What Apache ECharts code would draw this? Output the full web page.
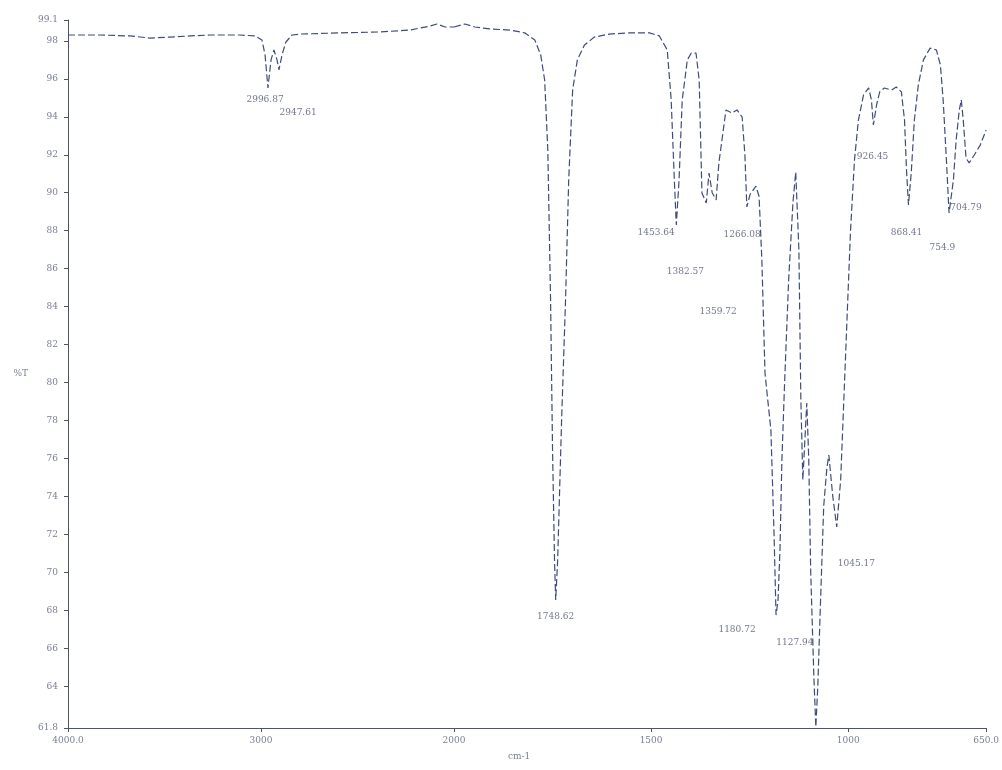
<!DOCTYPE html>
<html lang="en">
<head>
    <meta charset="UTF-8">
    <title>IR spectrum</title>
    <style>
        html, body { margin: 0; padding: 0; background: #fff; }
        #myChart { width: 1002px; height: 770px; }
    </style>
</head>
<body>
    <div id="myChart"></div>
</body>
<script src="https://cdn.jsdelivr.net/npm/echarts@6/dist/echarts.min.js"></script>
<script>
    // 4000 - 2000 cm-1 part (compressed scale)
    let wnHigh = [4000, 3834, 3679, 3575, 3472, 3368, 3264, 3109, 3031, 2995, 2979, 2964, 2948, 2933, 2917,
        2907, 2891, 2871, 2839, 2798, 2591, 2383, 2228, 2124, 2088, 2047, 2000];
    let tHigh = [98.31, 98.31, 98.26, 98.15, 98.20, 98.26, 98.31, 98.31, 98.26, 98.05, 97.26, 95.52, 97.0, 97.52, 97.0,
        96.47, 97.26, 97.94, 98.31, 98.36, 98.42, 98.47, 98.57, 98.78, 98.89, 98.73, 98.73];

    // 2000 - 650 cm-1 part
    let wnLow = [2000, 1972, 1947, 1909, 1858, 1820, 1795, 1780, 1770, 1762, 1755, 1750, 1745, 1742, 1737,
        1727, 1717, 1709, 1699, 1687, 1669, 1644, 1606, 1555, 1504, 1479, 1459, 1449, 1441, 1436,
        1429, 1421, 1408, 1398, 1386, 1378, 1371, 1360, 1353, 1345, 1335, 1328, 1310, 1295, 1282,
        1269, 1262, 1257, 1249, 1234, 1226, 1219, 1211, 1204, 1196, 1188, 1183, 1178, 1173, 1168,
        1161, 1151, 1140, 1133, 1125, 1120, 1115, 1105, 1100, 1095, 1087, 1082, 1077, 1070, 1062,
        1054, 1049, 1039, 1029, 1019, 1009, 1001, 994, 984, 974, 961, 948, 941, 936, 928,
        920, 908, 890, 878, 865, 857, 852, 847, 840, 832, 822, 809, 792, 776, 766,
        759, 751, 744, 733, 726, 718, 713, 708, 701, 693, 680, 665, 650];
    let tLow = [98.73, 98.89, 98.73, 98.63, 98.57, 98.42, 98.05, 97.26, 95.94, 92.25, 84.35, 76.45, 70.65, 68.54, 70.65,
        78.03, 84.35, 90.67, 95.41, 97.0, 97.78, 98.2, 98.36, 98.42, 98.42, 98.26, 97.52, 94.89, 90.67, 88.3,
        90.67, 94.89, 97.0, 97.36, 97.36, 95.94, 89.99, 89.46, 91.04, 90.0, 89.62, 91.57, 94.36, 94.2, 94.36,
        93.99, 92.0, 89.25, 89.9, 90.35, 89.8, 86.5, 80.5, 79.08, 77.5, 72.0, 67.75, 68.5, 71.18, 76.0,
        80.13, 85.4, 89.5, 91.09, 86.98, 79.08, 74.87, 78.92, 76.0, 70.0, 64.5, 61.85, 64.0, 68.54, 73.5,
        75.5, 76.18, 74.0, 72.39, 74.87, 80.13, 84.35, 88.0, 91.72, 93.83, 95.15, 95.52, 94.89, 93.57, 94.62,
        95.31, 95.52, 95.41, 95.57, 95.31, 93.83, 91.2, 89.35, 91.04, 93.83, 95.68, 97.0, 97.62, 97.52, 96.73,
        94.89, 91.83, 88.93, 90.67, 92.78, 94.36, 94.89, 93.83, 91.83, 91.57, 91.99, 92.51, 93.3];

    // peak labels (text, and where the text sits)
    let peakHighText = ['2996.87', '2947.61'];
    let peakHighWn = [2979, 2808];
    let peakHighT = [94.89, 94.2];
    let peakLowText = ['1748.62', '1453.64', '1382.57', '1359.72', '1266.08', '1180.72', '1127.94',
        '1045.17', '926.45', '868.41', '754.9', '704.79'];
    let peakLowWn = [1742, 1487, 1413, 1330, 1269, 1282, 1135, 979, 938, 852, 761, 701];
    let peakLowT = [67.65, 87.88, 85.82, 83.72, 87.77, 66.96, 66.28, 70.44, 91.88, 87.88, 87.09, 89.2];

    let yTicks = [61.8, 64, 66, 68, 70, 72, 74, 76, 78, 80, 82, 84, 86, 88, 90, 92, 94, 96, 98, 99.1];
    let xTicksHigh = [4000, 3000];
    let xTicksLow = [2000, 1500, 1000, 650];

    let zip = (a, b) => a.map((v, i) => [v, b[i]]);
    let axisColor = '#4b5468';
    let textColor = '#7a8094';
    let lineColor = '#3d4c7c';

    let xFmt = function (v) {
      if (v === 4000) return '4000.0';
      if (v === 650) return '650.0';
      return String(v);
    };

    let chart = echarts.init(document.getElementById('myChart'));
    let option = {
      animation: false,
      grid: [
        {left: 68, width: 386, top: 20, bottom: 42},
        {left: 454, right: 12, top: 20, bottom: 42}
      ],
      xAxis: [{
        gridIndex: 0,
        type: 'value',
        min: 2000,
        max: 4000,
        inverse: true,
        splitLine: {show: false},
        axisLine: {lineStyle: {color: axisColor, width: 1}},
        axisTick: {customValues: xTicksHigh, length: 4, lineStyle: {color: axisColor}},
        axisLabel: {customValues: xTicksHigh, formatter: xFmt, color: textColor, fontSize: 9,
          fontFamily: 'DejaVu Serif', margin: 8}
      }, {
        gridIndex: 1,
        type: 'value',
        min: 650,
        max: 2000,
        inverse: true,
        splitLine: {show: false},
        axisLine: {lineStyle: {color: axisColor, width: 1}},
        axisTick: {customValues: xTicksLow, length: 4, lineStyle: {color: axisColor}},
        axisLabel: {customValues: xTicksLow, formatter: xFmt, color: textColor, fontSize: 9,
          fontFamily: 'DejaVu Serif', margin: 8}
      }],
      yAxis: [{
        gridIndex: 0,
        type: 'value',
        min: 61.8,
        max: 99.1,
        name: '%T',
        nameLocation: 'middle',
        nameRotate: 0,
        nameGap: 40,
        nameTextStyle: {color: textColor, fontSize: 9, fontFamily: 'DejaVu Serif'},
        splitLine: {show: false},
        axisLine: {show: true, lineStyle: {color: axisColor, width: 1}},
        axisTick: {show: true, customValues: yTicks, length: 4, lineStyle: {color: axisColor}},
        axisLabel: {
          customValues: yTicks,
          color: textColor,
          fontSize: 9,
          fontFamily: 'DejaVu Serif',
          margin: 10,
          formatter: v => (v === 61.8 || v === 99.1) ? v.toFixed(1) : String(v)
        }
      }, {
        gridIndex: 1,
        type: 'value',
        min: 61.8,
        max: 99.1,
        show: false
      }],
      graphic: [{
        type: 'text',
        left: 508,
        top: 752,
        style: {text: 'cm-1', fill: textColor, fontSize: 9, fontFamily: 'DejaVu Serif'}
      }],
      series: [{
        type: 'line',
        xAxisIndex: 0,
        yAxisIndex: 0,
        data: zip(wnHigh, tHigh),
        showSymbol: false,
        lineStyle: {color: lineColor, width: 1.2, type: [7, 3]}
      }, {
        type: 'line',
        xAxisIndex: 1,
        yAxisIndex: 1,
        data: zip(wnLow, tLow),
        showSymbol: false,
        lineStyle: {color: lineColor, width: 1.2, type: [7, 3]}
      }, {
        type: 'scatter',
        xAxisIndex: 0,
        yAxisIndex: 0,
        symbolSize: 0,
        data: peakHighWn.map((w, i) => ({value: [w, peakHighT[i]], name: peakHighText[i]})),
        label: {show: true, position: 'inside', formatter: p => p.name,
          color: '#4e5570', fontSize: 9, fontFamily: 'DejaVu Serif'}
      }, {
        type: 'scatter',
        xAxisIndex: 1,
        yAxisIndex: 1,
        symbolSize: 0,
        data: peakLowWn.map((w, i) => ({value: [w, peakLowT[i]], name: peakLowText[i]})),
        label: {show: true, position: 'inside', formatter: p => p.name,
          color: '#4e5570', fontSize: 9, fontFamily: 'DejaVu Serif'}
      }]
    };
    chart.setOption(option);
</script>
</html>
